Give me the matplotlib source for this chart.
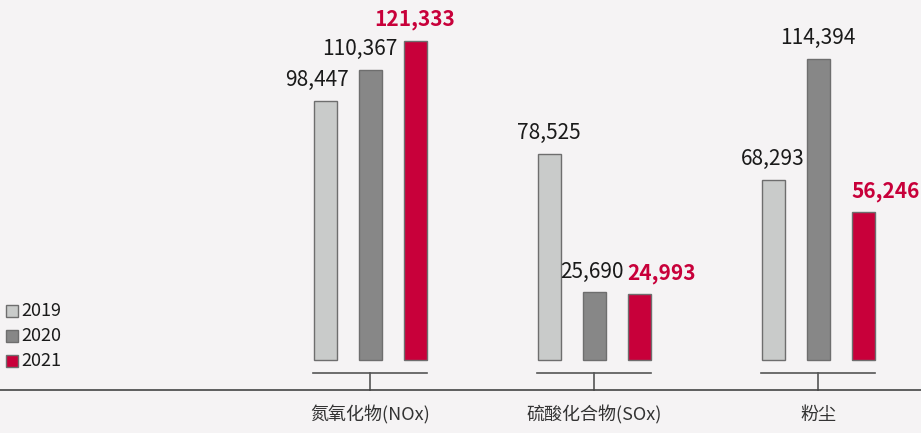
import matplotlib.pyplot as plt
from matplotlib.patches import Rectangle
import numpy as np

plt.rcParams['font.family'] = ['Noto Sans CJK SC', 'DejaVu Sans']

categories = ['氮氧化物(NOx)', '硫酸化合物(SOx)', '粉尘']
years = ['2019', '2020', '2021']
v2019 = [98447, 78525, 68293]
v2020 = [110367, 25690, 114394]
v2021 = [121333, 24993, 56246]

colors = ['#c9cbca', '#878787', '#c8003a']
edge = '#6e6e6e'
bg = '#f5f3f4'

W, H = 921, 433
fig = plt.figure(figsize=(W / 100, H / 100), dpi=100, facecolor=bg)
ax = fig.add_axes([0, 0, 1, 1])
ax.set_facecolor(bg)

# pixel layout: group centres 370 + 224*i, baseline 73px from bottom
px = 224.0
kx = 1 / px
ky = 121333 / 319.0
ax.set_xlim(-370 * kx, (W - 370) * kx)
ax.set_ylim(-73 * ky, (H - 73) * ky)
ax.axis('off')

x = np.arange(len(categories))
off = 45 * kx
bw = 23 * kx
series = [v2019, v2020, v2021]
# label nudges in px (avoid overlaps)
nudge = [[-8, 0, 0], [-10, -2, 0], [0, 23, 23]]

for j, vals in enumerate(series):
    xs = x + (j - 1) * off
    ax.bar(xs, vals, width=bw, color=colors[j], edgecolor=edge, linewidth=1, zorder=2)
    for i, v in enumerate(vals):
        red = j == 2
        ax.annotate(f'{v:,}', (xs[i], v), xytext=(nudge[j][i] * 0.72, 21 * 0.72),
                    textcoords='offset points', ha='center', va='center',
                    fontsize=15,
                    fontweight='bold' if red else 300,
                    color='#c8003a' if red else '#1a1a1a')

# brackets and baseline
for i in x:
    ax.plot([i - 57 * kx, i + 57 * kx], [-13 * ky, -13 * ky], color='#555555', lw=1.2)
    ax.plot([i, i], [-13 * ky, -30 * ky], color='#555555', lw=1.2)
ax.axhline(-30 * ky, color='#444444', lw=1.2)

for i, c in enumerate(categories):
    ax.text(i, -55 * ky, c, ha='center', va='center', fontsize=13, fontweight=300,
            color='#333333')

# legend
for j, y in enumerate(years):
    cy = 311 + 25 * j
    fig.patches.append(Rectangle((6 / W, 1 - (cy + 6) / H), 12 / W, 12 / H,
                                 transform=fig.transFigure, facecolor=colors[j],
                                 edgecolor=edge, linewidth=1))
    fig.text(21 / W, 1 - cy / H, y, ha='left', va='center', fontsize=13, fontweight=300,
             color='#1a1a1a')

fig.savefig('out.png', dpi=100, facecolor=bg)
